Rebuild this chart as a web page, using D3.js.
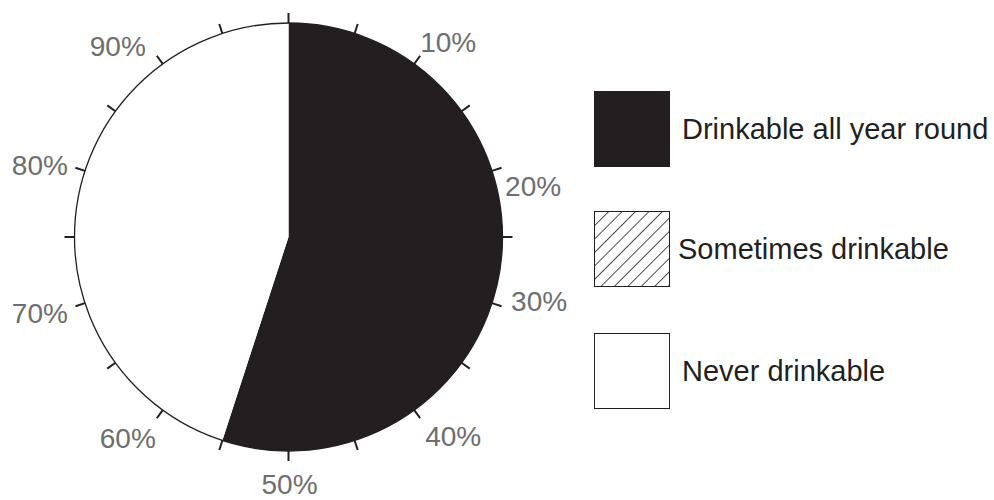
<!DOCTYPE html>
<html lang="en">
<head>
<meta charset="UTF-8">
<title>Drinkable water</title>
<style>
    body { margin: 0; background: #fff; font-family: "Liberation Sans", Arial, sans-serif; }
    .tick-label { fill: #6d6e71; font-size: 28px; }
    .legend-label { fill: #231f20; font-size: 29px; }
</style>
</head>
<body>
<svg width="994" height="500"></svg>
<script src="https://d3js.org/d3.v7.min.js"></script>
<script>
const categories = ["Drinkable all year round", "Sometimes drinkable", "Never drinkable"];
const shares = [55, 0, 45];
const tickPercents = d3.range(0, 100, 5);
const labelPercents = [10, 20, 30, 40, 50, 60, 70, 80, 90];

const svg = d3.select("svg");
const cx = 288.5, cy = 237, r = 214, labelR = 253;
const ink = "#231f20";
// the labels in the original sit a bit off their ideal radial spot
const labelNudge = {
    10: [11, 10], 20: [4, 28], 30: [10, -14], 40: [16, -5], 50: [1, -6],
    60: [-12, -3], 70: [-8, -2], 80: [-8, 7], 90: [-22, 14]
};

const defs = svg.append("defs");
const pat = defs.append("pattern")
    .attr("id", "hatch")
    .attr("patternUnits", "userSpaceOnUse")
    .attr("width", 9.5).attr("height", 9.5)
    .attr("patternTransform", "rotate(45)");
pat.append("rect").attr("width", 9.5).attr("height", 9.5).attr("fill", "#fff");
pat.append("line").attr("x1", 0).attr("y1", 0).attr("x2", 0).attr("y2", 9.5)
    .attr("stroke", ink).attr("stroke-width", 1.6);

const fills = [ink, "url(#hatch)", "#fff"];

const angle = d3.scaleLinear().domain([0, 100]).range([0, 2 * Math.PI]);

const g = svg.append("g").attr("transform", `translate(${cx},${cy})`);

const pie = d3.pie().sort(null).value(d => d)(shares);
const arc = d3.arc().innerRadius(0).outerRadius(r);

g.selectAll("path.slice")
    .data(pie.filter(d => d.data > 0))
    .join("path")
    .attr("class", "slice")
    .attr("d", arc)
    .attr("fill", d => fills[d.index]);

g.append("circle").attr("r", r).attr("fill", "none").attr("stroke", ink).attr("stroke-width", 1.3);

g.selectAll("line.tick")
    .data(tickPercents)
    .join("line")
    .attr("class", "tick")
    .attr("x1", d => Math.sin(angle(d)) * r)
    .attr("y1", d => -Math.cos(angle(d)) * r)
    .attr("x2", d => Math.sin(angle(d)) * (r + 10))
    .attr("y2", d => -Math.cos(angle(d)) * (r + 10))
    .attr("stroke", ink)
    .attr("stroke-width", 2);

g.selectAll("text.tick-label")
    .data(labelPercents)
    .join("text")
    .attr("class", "tick-label")
    .attr("x", d => Math.sin(angle(d)) * labelR + labelNudge[d][0])
    .attr("y", d => -Math.cos(angle(d)) * labelR + labelNudge[d][1])
    .attr("text-anchor", "middle")
    .attr("dominant-baseline", "central")
    .text(d => d + "%");

const legendY = [91, 211, 333];
const legend = svg.append("g");
legend.selectAll("rect")
    .data(categories)
    .join("rect")
    .attr("x", 594.5)
    .attr("y", (d, i) => legendY[i] + 0.5)
    .attr("width", 75)
    .attr("height", 75)
    .attr("fill", (d, i) => fills[i])
    .attr("stroke", ink)
    .attr("stroke-width", 1);

legend.selectAll("text")
    .data(categories)
    .join("text")
    .attr("class", "legend-label")
    .attr("x", (d, i) => i === 1 ? 678 : 682)
    .attr("y", (d, i) => legendY[i] + 38)
    .attr("dominant-baseline", "central")
    .text(d => d);
</script>
</body>
</html>
